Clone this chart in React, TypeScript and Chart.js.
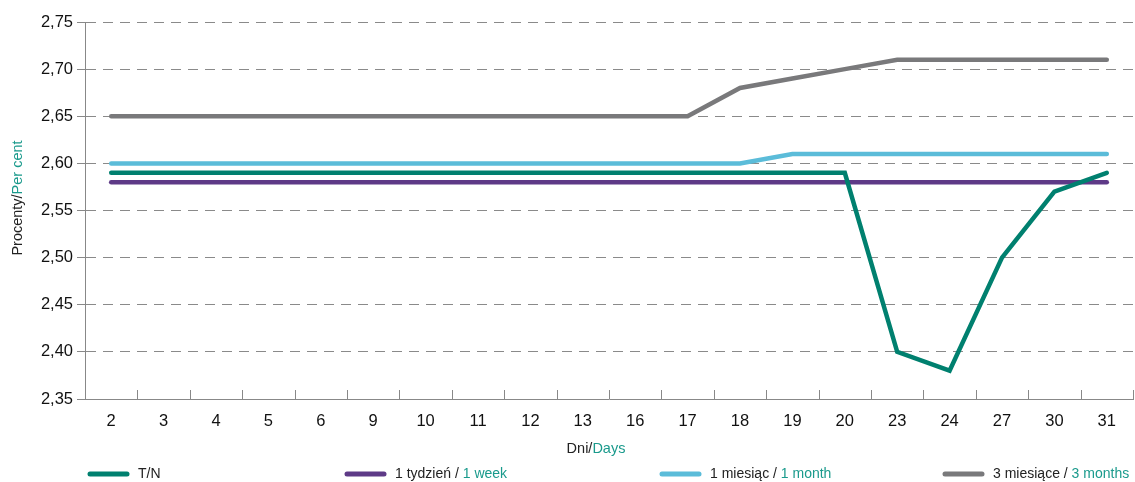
import React, { useEffect, useRef } from "react";
import { Chart, registerables } from "chart.js";

Chart.register(...registerables);

const categories = ["2", "3", "4", "5", "6", "9", "10", "11", "12", "13", "16", "17", "18", "19", "20", "23", "24", "27", "30", "31"];
const tnValues = [2.59, 2.59, 2.59, 2.59, 2.59, 2.59, 2.59, 2.59, 2.59, 2.59, 2.59, 2.59, 2.59, 2.59, 2.59, 2.40, 2.38, 2.50, 2.57, 2.59];
const weekValues = [2.58, 2.58, 2.58, 2.58, 2.58, 2.58, 2.58, 2.58, 2.58, 2.58, 2.58, 2.58, 2.58, 2.58, 2.58, 2.58, 2.58, 2.58, 2.58, 2.58];
const monthValues = [2.60, 2.60, 2.60, 2.60, 2.60, 2.60, 2.60, 2.60, 2.60, 2.60, 2.60, 2.60, 2.60, 2.61, 2.61, 2.61, 2.61, 2.61, 2.61, 2.61];
const threeMonthValues = [2.65, 2.65, 2.65, 2.65, 2.65, 2.65, 2.65, 2.65, 2.65, 2.65, 2.65, 2.65, 2.68, 2.69, 2.70, 2.71, 2.71, 2.71, 2.71, 2.71];

const TEAL = "#00806f";
const PURPLE = "#5e3a87";
const LIGHTBLUE = "#5bbcd9";
const GRAY = "#79797b";
const ACCENT = "#1a9a8c";
const FONT = "'Liberation Sans Narrow', 'Liberation Sans', sans-serif";

const legendItems = [
  { color: TEAL, black: "T/N", teal: "" },
  { color: PURPLE, black: "1 tydzień / ", teal: "1 week" },
  { color: LIGHTBLUE, black: "1 miesiąc / ", teal: "1 month" },
  { color: GRAY, black: "3 miesiące / ", teal: "3 months" },
];
const legendX = [88, 345, 660, 943];

function drawRuns(ctx: CanvasRenderingContext2D, x: number, y: number, runs: { t: string; c: string }[], align: "left" | "center") {
  const total = runs.reduce((s, r) => s + ctx.measureText(r.t).width, 0);
  let cx = align === "center" ? x - total / 2 : x;
  ctx.textAlign = "left";
  for (const r of runs) {
    ctx.fillStyle = r.c;
    ctx.fillText(r.t, cx, y);
    cx += ctx.measureText(r.t).width;
  }
}

const decorPlugin = {
  id: "decor",
  afterDatasetsDraw(chart: any) {
    const ctx = chart.ctx as CanvasRenderingContext2D;
    const area = chart.chartArea;
    ctx.save();
    // inner tick marks on x axis between categories
    ctx.strokeStyle = "#888";
    ctx.lineWidth = 1;
    const n = categories.length;
    const step = (area.right - area.left) / n;
    for (let i = 1; i <= n; i++) {
      const x = Math.round(area.left + i * step) + 0.5;
      ctx.beginPath();
      ctx.moveTo(x, area.bottom);
      ctx.lineTo(x, area.bottom - 9);
      ctx.stroke();
    }
    // axis titles
    ctx.font = "14.5px " + FONT;
    ctx.textBaseline = "middle";
    drawRuns(ctx, 596, 449, [{ t: "Dni/", c: "#222" }, { t: "Days", c: ACCENT }], "center");
    ctx.save();
    ctx.translate(18, 198);
    ctx.rotate(-Math.PI / 2);
    drawRuns(ctx, 0, 0, [{ t: "Procenty/", c: "#222" }, { t: "Per cent", c: ACCENT }], "center");
    ctx.restore();
    // legend
    const ly = 474;
    legendItems.forEach((it, i) => {
      const x0 = legendX[i];
      ctx.strokeStyle = it.color;
      ctx.lineWidth = 5;
      ctx.lineCap = "round";
      ctx.beginPath();
      ctx.moveTo(x0 + 2, ly);
      ctx.lineTo(x0 + 39, ly);
      ctx.stroke();
      ctx.font = "14px " + FONT;
      const runs = [{ t: it.black, c: "#222" }];
      if (it.teal) runs.push({ t: it.teal, c: ACCENT });
      drawRuns(ctx, x0 + 50, ly, runs, "left");
    });
    ctx.restore();
  },
};

export default function App() {
  const ref = useRef<HTMLCanvasElement | null>(null);
  useEffect(() => {
    document.body.style.margin = "0";
    const mk = (label: string, data: number[], color: string) => ({
      label,
      data,
      borderColor: color,
      backgroundColor: color,
      borderWidth: 4.5,
      pointRadius: 0,
      tension: 0,
      borderCapStyle: "round" as const,
      borderJoinStyle: "miter" as const,
    });
    const chart = new Chart(ref.current as HTMLCanvasElement, {
      type: "line",
      data: {
        labels: categories,
        datasets: [
          mk("T/N", tnValues, TEAL),
          mk("1 tydzień / 1 week", weekValues, PURPLE),
          mk("1 miesiąc / 1 month", monthValues, LIGHTBLUE),
          mk("3 miesiące / 3 months", threeMonthValues, GRAY),
        ],
      },
      options: {
        animation: false,
        responsive: false,
        layout: { padding: { top: 22, right: 2, left: 0, bottom: 0 } },
        plugins: { legend: { display: false }, tooltip: { enabled: false } },
        scales: {
          x: {
            offset: true,
            grid: { display: true, drawOnChartArea: false, drawTicks: false, offset: true },
            border: { color: "#888", width: 1 },
            ticks: { color: "#111", font: { family: FONT, size: 16.5 }, padding: 13, maxRotation: 0, autoSkip: false },
            afterFit: (s: any) => { s.height = 83; },
          },
          y: {
            min: 2.35,
            max: 2.75,
            grid: { color: "#8a8a8a", lineWidth: 1, tickLength: 8, tickColor: "#888", drawTicks: true },
            border: { color: "#888", width: 1, dash: [10, 7] },
            ticks: {
              stepSize: 0.05,
              color: "#111",
              font: { family: FONT, size: 16.5 },
              padding: 4,
              callback: (v: any) => Number(v).toFixed(2).replace(".", ","),
            },
            afterFit: (s: any) => { s.width = 85; },
          },
        },
      },
      plugins: [decorPlugin],
    } as any);
    return () => chart.destroy();
  }, []);
  return (
    <div style={{ position: "absolute", left: 0, top: 0, width: 1135, height: 482 }}>
      <canvas ref={ref} width={1135} height={482} style={{ width: 1135, height: 482 }} />
    </div>
  );
}
